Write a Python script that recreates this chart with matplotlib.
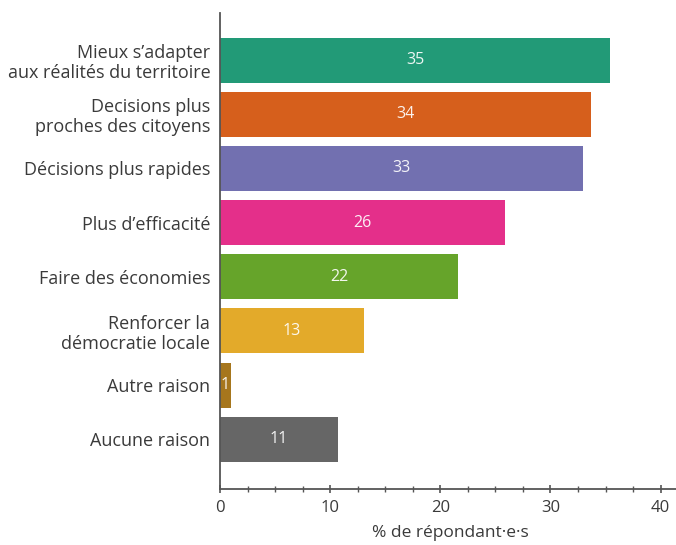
import matplotlib
matplotlib.use("agg")
import matplotlib.pyplot as plt
from matplotlib.ticker import MultipleLocator

plt.rcParams["font.family"] = ["Open Sans", "DejaVu Sans"]

INK = "#3a3a3a"
AXIS = "#555555"

categories = [
    "Mieux s\u2019adapter\naux réalités du territoire",
    "Decisions plus\nproches des citoyens",
    "Décisions plus rapides",
    "Plus d\u2019efficacité",
    "Faire des économies",
    "Renforcer la\ndémocratie locale",
    "Autre raison",
    "Aucune raison",
]
values = [35.4, 33.7, 33.0, 25.9, 21.6, 13.1, 1.0, 10.7]
colors = ["#229a77", "#d65f1c", "#7270b0", "#e42f8a", "#66a42a", "#e3aa2a", "#a6761d", "#666666"]

fig = plt.figure(figsize=(6.76, 5.45), dpi=100)
ax = fig.add_axes([220 / 676, 56 / 545, 456 / 676, 476 / 545])

y = list(range(len(categories)))
ax.barh(y, values, height=0.83, color=colors, zorder=2)
for yi, v in zip(y, values):
    ax.text(v / 2, yi, f"{round(v)}", ha="center", va="center",
            color="white", fontsize=11.5, alpha=0.92)

ax.set_yticks(y)
ax.set_yticklabels(categories, fontsize=13, color=INK, linespacing=1.15)
ax.set_ylim(7.92, -0.87)
ax.set_xlim(0, 41.4)
ax.xaxis.set_major_locator(MultipleLocator(10))
ax.xaxis.set_minor_locator(MultipleLocator(2.5))
ax.tick_params(axis="y", length=0, pad=7)
ax.tick_params(axis="x", which="major", direction="inout", length=6, width=1.2,
               colors=AXIS, labelcolor=INK, labelsize=12, pad=5)
ax.tick_params(axis="x", which="minor", direction="inout", length=4, width=1, colors=AXIS)
for s in ["top", "right"]:
    ax.spines[s].set_visible(False)
for s in ["left", "bottom"]:
    ax.spines[s].set_color(AXIS)
    ax.spines[s].set_linewidth(1.3)
ax.set_xlabel("% de répondant\u00b7e\u00b7s", fontsize=12.5, color=INK)
ax.xaxis.set_label_coords(230 / 456, -0.075)

fig.savefig("out.png", dpi=100)
